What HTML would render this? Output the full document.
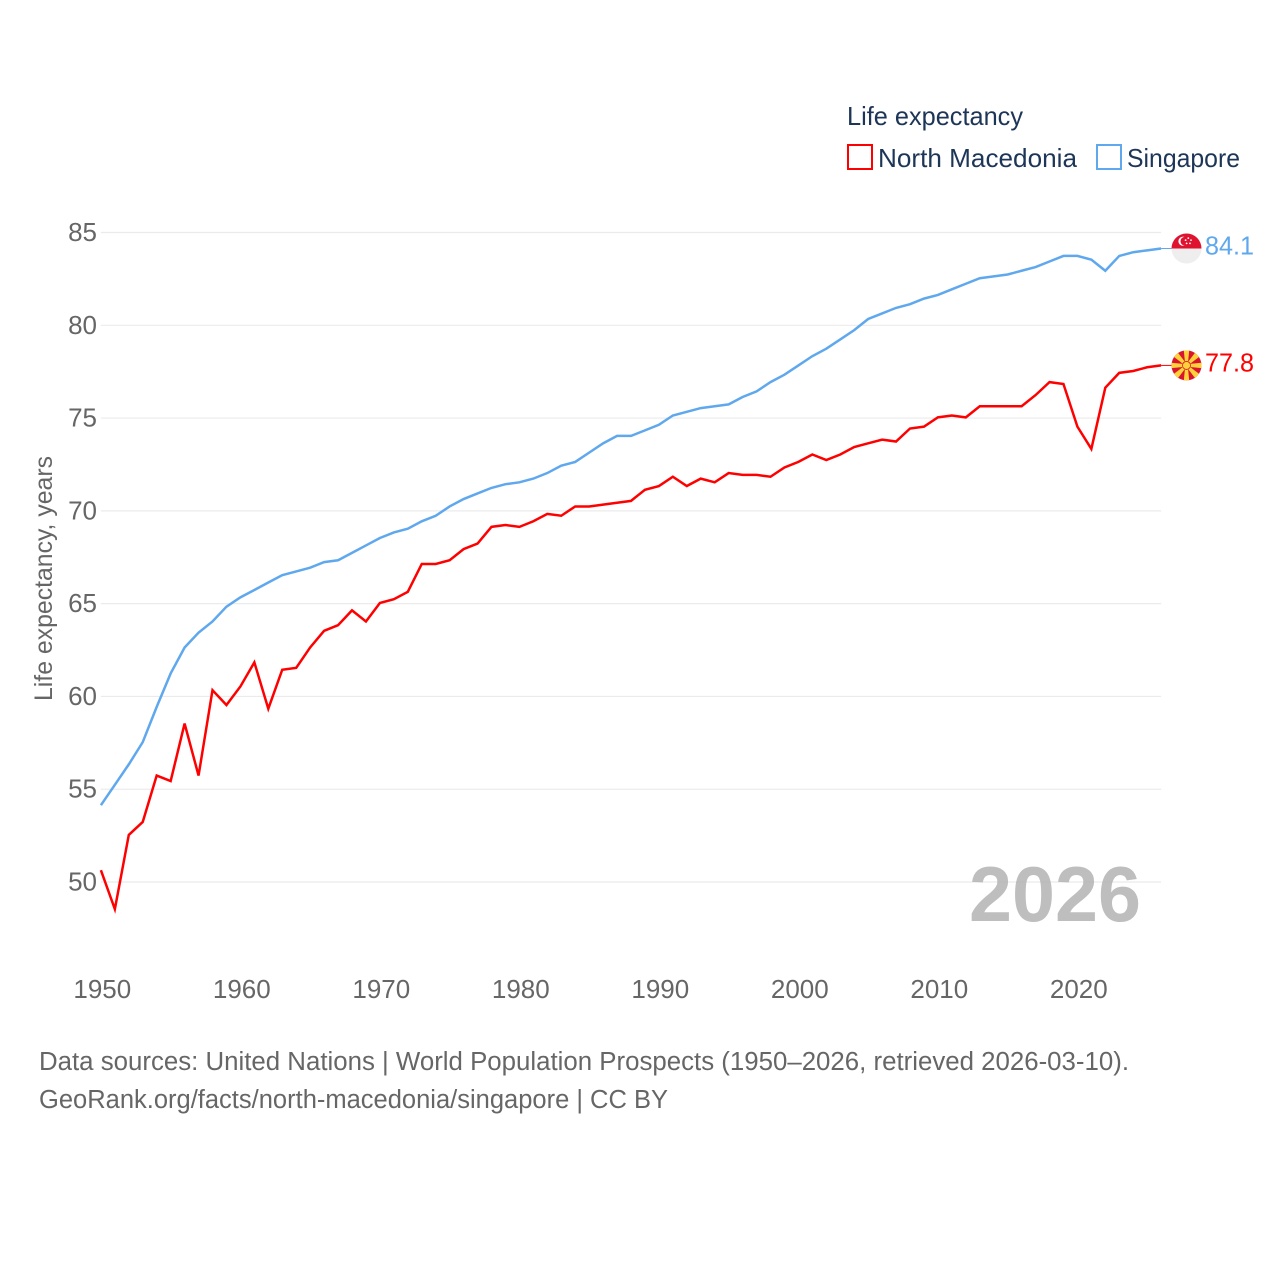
<!DOCTYPE html>
<html lang="en">
<head>
<meta charset="utf-8">
<title>Life expectancy: North Macedonia and Singapore</title>
<style>
html,body{margin:0;padding:0;background:#fff}
svg{display:block}
text{font-family:"Liberation Sans",sans-serif}
</style>
</head>
<body>
<svg id="chart" xmlns="http://www.w3.org/2000/svg" width="1280" height="1280" viewBox="0 0 1280 1280">
  <defs>
    <clipPath id="flag-clip"><circle cx="0" cy="0" r="15"/></clipPath>
  </defs>
  <g id="grid"></g>
  <text x="969" y="921" font-size="78" font-weight="700" fill="#b0b0b0" fill-opacity="0.82" textLength="172" lengthAdjust="spacingAndGlyphs">2026</text>
  <g id="y-ticks"></g>
  <g id="x-ticks"></g>
  <text transform="translate(52,701) rotate(-90)" font-size="25" fill="#666" textLength="245" lengthAdjust="spacingAndGlyphs">Life expectancy, years</text>
  <g id="series"></g>
  <g id="flag-sg">
    <g clip-path="url(#flag-clip)">
      <rect x="-15" y="-15" width="30" height="30" fill="#eeeeee"/>
      <rect x="-15" y="-15" width="30" height="15" fill="#df1230"/>
      <circle cx="-3.5" cy="-7.3" r="4.6" fill="#fff"/>
      <circle cx="-1.7" cy="-7.3" r="4.3" fill="#df1230"/>
      <circle cx="1.8" cy="-10.4" r="0.9" fill="#fff"/>
      <circle cx="-0.9" cy="-8.4" r="0.9" fill="#fff"/>
      <circle cx="4.5" cy="-8.4" r="0.9" fill="#fff"/>
      <circle cx="0.1" cy="-5.1" r="0.9" fill="#fff"/>
      <circle cx="3.5" cy="-5.1" r="0.9" fill="#fff"/>
    </g>
  </g>
  <g id="flag-mk">
    <g clip-path="url(#flag-clip)">
      <rect x="-15" y="-15" width="30" height="30" fill="#d8142e"/>
      <polygon points="-1.2,0 1.2,0 2.8,-16 -2.8,-16" fill="#ffd23c" transform="rotate(0)"/>
      <polygon points="-1.2,0 1.2,0 2.8,-16 -2.8,-16" fill="#ffd23c" transform="rotate(180)"/>
      <polygon points="-1.2,0 1.2,0 2.8,-16 -2.8,-16" fill="#ffd23c" transform="rotate(90)"/>
      <polygon points="-1.2,0 1.2,0 2.8,-16 -2.8,-16" fill="#ffd23c" transform="rotate(270)"/>
      <polygon points="-0.9,0 0.9,0 3.2,-17 -3.2,-17" fill="#ffd23c" transform="rotate(45)"/>
      <polygon points="-0.9,0 0.9,0 3.2,-17 -3.2,-17" fill="#ffd23c" transform="rotate(135)"/>
      <polygon points="-0.9,0 0.9,0 3.2,-17 -3.2,-17" fill="#ffd23c" transform="rotate(225)"/>
      <polygon points="-0.9,0 0.9,0 3.2,-17 -3.2,-17" fill="#ffd23c" transform="rotate(315)"/>
      <circle r="4.4" fill="#d8142e"/>
      <circle r="3.6" fill="#ffd23c"/>
    </g>
  </g>
  <g id="value-labels"></g>
  <g>
    <text x="847" y="125" font-size="26" fill="#1d3557" textLength="176" lengthAdjust="spacingAndGlyphs">Life expectancy</text>
    <g>
      <rect x="848" y="145" width="24" height="24" fill="#fff" stroke="#ff0000" stroke-width="2"/>
      <text x="878" y="167" font-size="26" fill="#1d3557" textLength="199" lengthAdjust="spacingAndGlyphs">North Macedonia</text>
    </g>
    <g>
      <rect x="1097" y="145" width="24" height="24" fill="#fff" stroke="#5fa8ee" stroke-width="2"/>
      <text x="1127" y="167" font-size="26" fill="#1d3557" textLength="113" lengthAdjust="spacingAndGlyphs">Singapore</text>
    </g>
  </g>
  <text x="39" y="1070" font-size="25.5" fill="#666" textLength="1090" lengthAdjust="spacingAndGlyphs">Data sources: United Nations | World Population Prospects (1950–2026, retrieved 2026-03-10).</text>
  <text x="39" y="1108" font-size="25.5" fill="#666" textLength="629" lengthAdjust="spacingAndGlyphs">GeoRank.org/facts/north-macedonia/singapore | CC BY</text>
</svg>
<script>
const startYear = 1950;
const yTickValues = [50, 55, 60, 65, 70, 75, 80, 85];
const xTickValues = [1950, 1960, 1970, 1980, 1990, 2000, 2010, 2020];
const northMacedonia = [50.6,48.5,52.5,53.2,55.7,55.4,58.5,55.7,60.3,59.5,60.5,61.8,59.3,61.4,61.5,62.6,63.5,63.8,64.6,64.0,65.0,65.2,65.6,67.1,67.1,67.3,67.9,68.2,69.1,69.2,69.1,69.4,69.8,69.7,70.2,70.2,70.3,70.4,70.5,71.1,71.3,71.8,71.3,71.7,71.5,72.0,71.9,71.9,71.8,72.3,72.6,73.0,72.7,73.0,73.4,73.6,73.8,73.7,74.4,74.5,75.0,75.1,75.0,75.6,75.6,75.6,75.6,76.2,76.9,76.8,74.5,73.3,76.6,77.4,77.5,77.7,77.8];
const singapore = [54.1,55.2,56.3,57.5,59.4,61.2,62.6,63.4,64.0,64.8,65.3,65.7,66.1,66.5,66.7,66.9,67.2,67.3,67.7,68.1,68.5,68.8,69.0,69.4,69.7,70.2,70.6,70.9,71.2,71.4,71.5,71.7,72.0,72.4,72.6,73.1,73.6,74.0,74.0,74.3,74.6,75.1,75.3,75.5,75.6,75.7,76.1,76.4,76.9,77.3,77.8,78.3,78.7,79.2,79.7,80.3,80.6,80.9,81.1,81.4,81.6,81.9,82.2,82.5,82.6,82.7,82.9,83.1,83.4,83.7,83.7,83.5,82.9,83.7,83.9,84.0,84.1];

const NS = 'http://www.w3.org/2000/svg';
const xScale = function (year) { return 100.9 + (year - 1950) * 13.95; };
const yScale = function (v) { return 882 - (v - 50) * 18.557; };
const lineY = function (v) { return yScale(v) - 0.7; };
const byId = function (id) { return document.getElementById(id); };
const plotLeft = xScale(1950);
const plotRight = xScale(2026);

yTickValues.forEach(function (v) {
  const line = document.createElementNS(NS, 'line');
  
  
  line.setAttribute('x1', plotLeft);
  line.setAttribute('x2', plotRight);
  line.setAttribute('y1', yScale(v));
  line.setAttribute('y2', yScale(v));
  line.setAttribute('stroke', '#ebebeb');
  line.setAttribute('stroke-width', '1.2');
  byId('grid').appendChild(line);

  const label = document.createElementNS(NS, 'text');
  
  
  label.setAttribute('x', 97);
  label.setAttribute('y', yScale(v) + 8.5);
  label.setAttribute('text-anchor', 'end');
  label.setAttribute('font-size', '26');
  label.setAttribute('fill', '#666');
  label.textContent = v;
  byId('y-ticks').appendChild(label);
});

xTickValues.forEach(function (year) {
  const label = document.createElementNS(NS, 'text');
  
  
  label.setAttribute('x', xScale(year) + 1.4);
  label.setAttribute('y', 998);
  label.setAttribute('text-anchor', 'middle');
  label.setAttribute('font-size', '26');
  label.setAttribute('fill', '#666');
  label.textContent = year;
  byId('x-ticks').appendChild(label);
});

function drawSeries(values, color, name, flagId) {
  const pts = values.map(function (v, i) {
    return xScale(startYear + i).toFixed(2) + ',' + lineY(v).toFixed(2);
  }).join(' ');
  const line = document.createElementNS(NS, 'polyline');
  
  
  line.setAttribute('points', pts);
  line.setAttribute('fill', 'none');
  line.setAttribute('stroke', color);
  line.setAttribute('stroke-width', '2.5');
  line.setAttribute('stroke-linejoin', 'miter');
  byId('series').appendChild(line);

  const last = values[values.length - 1];
  const endY = lineY(last);

  const connector = document.createElementNS(NS, 'line');
  
  
  connector.setAttribute('x1', plotRight);
  connector.setAttribute('x2', 1172);
  connector.setAttribute('y1', endY);
  connector.setAttribute('y2', endY);
  connector.setAttribute('stroke', color);
  connector.setAttribute('stroke-width', '1');
  byId('series').appendChild(connector);

  byId(flagId).setAttribute('transform', 'translate(1186.5,' + endY + ')');

  const label = document.createElementNS(NS, 'text');
  
  
  label.setAttribute('x', 1205);
  label.setAttribute('y', endY + 6);
  label.setAttribute('font-size', '26');
  label.setAttribute('fill', color);
  label.setAttribute('textLength', '49');
  label.setAttribute('lengthAdjust', 'spacingAndGlyphs');
  label.textContent = last.toFixed(1);
  byId('value-labels').appendChild(label);
}

drawSeries(singapore, '#5fa8ee', 'singapore', 'flag-sg');
drawSeries(northMacedonia, '#ff0000', 'north-macedonia', 'flag-mk');
</script>
</body>
</html>
